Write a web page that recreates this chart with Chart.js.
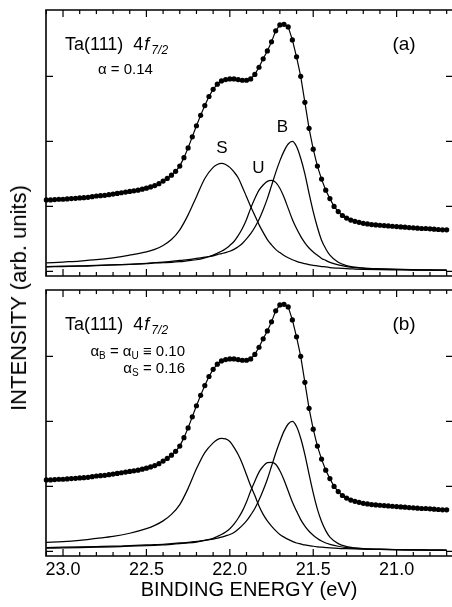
<!DOCTYPE html>
<html>
<head>
<meta charset="utf-8">
<script src="https://cdn.jsdelivr.net/npm/chart.js@4.4.1/dist/chart.umd.min.js"></script>
<style>
  html, body { margin:0; padding:0; background:#fff; }
  #wrap { position:relative; width:452px; height:607px; overflow:hidden; font-family:"Liberation Sans", Arial, sans-serif; }
  canvas { position:absolute; left:0; }
  #ca { top:0; }
  #cb { top:280px; }
  #ylab { position:absolute; left:19px; top:298px; transform:translate(-50%,-50%) rotate(-90deg); font-size:22px; white-space:nowrap; color:#000; }
</style>
</head>
<body>
<div id="wrap">
  <canvas id="ca" width="452" height="280"></canvas>
  <canvas id="cb" width="452" height="327"></canvas>
  <div id="ylab">INTENSITY (arb. units)</div>
</div>
<script>
// ---------- Data ----------
// measured spectrum (dots), binding energy in eV
const energy = [23.100, 23.075, 23.050, 23.025, 23.000, 22.975, 22.950, 22.925, 22.900, 22.875,
  22.850, 22.825, 22.800, 22.775, 22.750, 22.725, 22.700, 22.675, 22.650, 22.625,
  22.600, 22.575, 22.550, 22.525, 22.500, 22.475, 22.450, 22.425, 22.400, 22.375,
  22.350, 22.325, 22.300, 22.275, 22.250, 22.225, 22.200, 22.175, 22.150, 22.125,
  22.100, 22.075, 22.050, 22.025, 22.000, 21.975, 21.950, 21.925, 21.900, 21.875,
  21.850, 21.825, 21.800, 21.775, 21.750, 21.725, 21.700, 21.675, 21.650, 21.625,
  21.600, 21.575, 21.550, 21.525, 21.500, 21.475, 21.450, 21.425, 21.400, 21.375,
  21.350, 21.325, 21.300, 21.275, 21.250, 21.225, 21.200, 21.175, 21.150, 21.125,
  21.100, 21.075, 21.050, 21.025, 21.000, 20.975, 20.950, 20.925, 20.900, 20.875,
  20.850, 20.825, 20.800, 20.775, 20.750, 20.725, 20.700];
const intensity = [1.10, 1.10, 1.105, 1.11, 1.11, 1.115, 1.12, 1.125, 1.13, 1.135,
  1.14, 1.15, 1.16, 1.165, 1.17, 1.18, 1.19, 1.20, 1.21, 1.22,
  1.23, 1.24, 1.25, 1.265, 1.28, 1.30, 1.32, 1.35, 1.39, 1.43,
  1.48, 1.54, 1.62, 1.75, 1.90, 2.07, 2.24, 2.40, 2.55, 2.69,
  2.80, 2.88, 2.93, 2.95, 2.96, 2.96, 2.95, 2.94, 2.94, 2.96,
  3.03, 3.14, 3.27, 3.39, 3.53, 3.70, 3.79, 3.80, 3.76, 3.56,
  3.30, 3.00, 2.60, 2.20, 1.88, 1.62, 1.42, 1.25, 1.12, 1.00,
  0.92, 0.86, 0.82, 0.79, 0.77, 0.755, 0.74, 0.73, 0.72, 0.715,
  0.71, 0.705, 0.70, 0.695, 0.69, 0.685, 0.68, 0.675, 0.67, 0.665,
  0.66, 0.66, 0.655, 0.65, 0.645, 0.64, 0.64];

// fitted components (S, U, B)
const compE = [23.1, 23.0, 22.9, 22.8, 22.7, 22.6, 22.5, 22.45, 22.4, 22.35,
  22.3, 22.25, 22.2, 22.15, 22.1, 22.075, 22.05, 22.025, 22.0, 21.975,
  21.95, 21.925, 21.9, 21.875, 21.85, 21.825, 21.8, 21.775, 21.75, 21.725,
  21.7, 21.675, 21.65, 21.625, 21.6, 21.575, 21.55, 21.525, 21.5, 21.475,
  21.45, 21.425, 21.4, 21.35, 21.3, 21.25, 21.2, 21.1, 21.0, 20.9,
  20.8, 20.7];
// panel (a)
const surfA = [0.13, 0.145, 0.16, 0.18, 0.21, 0.25, 0.30, 0.34, 0.40, 0.49,
  0.64, 0.87, 1.15, 1.43, 1.60, 1.645, 1.66, 1.645, 1.60, 1.53,
  1.44, 1.30, 1.15, 1.00, 0.86, 0.72, 0.60, 0.49, 0.41, 0.34,
  0.29, 0.245, 0.21, 0.18, 0.155, 0.135, 0.12, 0.105, 0.095, 0.085,
  0.075, 0.07, 0.06, 0.05, 0.042, 0.037, 0.033, 0.028, 0.025, 0.022,
  0.02, 0.018];
const subA = [0.07, 0.075, 0.08, 0.09, 0.10, 0.11, 0.12, 0.13, 0.135, 0.14,
  0.15, 0.165, 0.18, 0.21, 0.25, 0.28, 0.31, 0.35, 0.40, 0.46,
  0.55, 0.66, 0.80, 0.97, 1.12, 1.25, 1.33, 1.385, 1.40, 1.37,
  1.28, 1.14, 0.97, 0.80, 0.66, 0.54, 0.44, 0.36, 0.30, 0.25,
  0.20, 0.17, 0.14, 0.10, 0.075, 0.06, 0.05, 0.04, 0.033, 0.028,
  0.024, 0.02];
const bulkA = [0.075, 0.08, 0.085, 0.095, 0.10, 0.11, 0.125, 0.135, 0.145, 0.155,
  0.17, 0.18, 0.20, 0.22, 0.24, 0.26, 0.275, 0.29, 0.31, 0.34,
  0.38, 0.43, 0.50, 0.58, 0.68, 0.80, 0.95, 1.12, 1.32, 1.52,
  1.70, 1.85, 1.96, 2.00, 1.92, 1.74, 1.50, 1.20, 0.92, 0.68,
  0.48, 0.35, 0.25, 0.14, 0.09, 0.065, 0.05, 0.038, 0.03, 0.026,
  0.022, 0.02];
// panel (b)
const surfB = [0.14, 0.15, 0.17, 0.20, 0.23, 0.28, 0.35, 0.40, 0.47, 0.57,
  0.72, 0.97, 1.27, 1.52, 1.67, 1.72, 1.74, 1.73, 1.69, 1.60,
  1.49, 1.35, 1.18, 1.01, 0.86, 0.70, 0.57, 0.47, 0.39, 0.32,
  0.26, 0.22, 0.185, 0.155, 0.13, 0.115, 0.10, 0.09, 0.08, 0.072,
  0.065, 0.06, 0.055, 0.047, 0.042, 0.038, 0.035, 0.03, 0.027, 0.024,
  0.022, 0.02];
const subB = [0.05, 0.055, 0.06, 0.065, 0.07, 0.08, 0.09, 0.095, 0.10, 0.11,
  0.12, 0.13, 0.145, 0.17, 0.20, 0.23, 0.26, 0.30, 0.35, 0.42,
  0.51, 0.62, 0.76, 0.93, 1.08, 1.22, 1.31, 1.365, 1.37, 1.34,
  1.24, 1.10, 0.93, 0.76, 0.62, 0.49, 0.39, 0.31, 0.25, 0.20,
  0.16, 0.13, 0.11, 0.08, 0.06, 0.048, 0.04, 0.032, 0.027, 0.023,
  0.02, 0.018];
const bulkB = [0.06, 0.065, 0.07, 0.075, 0.08, 0.09, 0.10, 0.105, 0.11, 0.12,
  0.13, 0.14, 0.155, 0.17, 0.19, 0.205, 0.22, 0.24, 0.26, 0.29,
  0.34, 0.40, 0.47, 0.56, 0.66, 0.79, 0.94, 1.11, 1.31, 1.51,
  1.69, 1.85, 1.96, 2.00, 1.92, 1.74, 1.49, 1.19, 0.90, 0.65,
  0.46, 0.32, 0.22, 0.12, 0.075, 0.055, 0.045, 0.035, 0.028, 0.024,
  0.02, 0.018];

// ticks
const xMajor = [23.0, 22.5, 22.0, 21.5, 21.0];
const xMinor = [23.1, 22.9, 22.8, 22.7, 22.6, 22.4, 22.3, 22.2, 22.1, 21.9, 21.8,
  21.7, 21.6, 21.4, 21.3, 21.2, 21.1, 20.9, 20.8, 20.7];
const yTicks = [0, 1, 2, 3];

// ---------- Utils ----------
const FONT = '"Liberation Sans", Arial, sans-serif';
const pts = (xs, ys) => xs.map((x, i) => ({ x, y: ys[i] }));

// frame (left/top/bottom, right edge is cut off) + inward ticks
const frameTicks = {
  id: "frameTicks",
  afterDraw(chart) {
    const { ctx, chartArea: a, scales: { x, y } } = chart;
    ctx.save();
    ctx.strokeStyle = "#000";
    ctx.lineWidth = 1.6;
    ctx.beginPath();
    ctx.moveTo(a.right, a.top); ctx.lineTo(a.left, a.top);
    ctx.lineTo(a.left, a.bottom); ctx.lineTo(a.right, a.bottom);
    ctx.stroke();
    ctx.lineWidth = 1.2;
    ctx.beginPath();
    x.ticks.forEach(t => {
      const px = x.getPixelForValue(t.value);
      const len = xMajor.includes(t.value) ? 7 : 4;
      ctx.moveTo(px, a.bottom); ctx.lineTo(px, a.bottom - len);
      ctx.moveTo(px, a.top);    ctx.lineTo(px, a.top + len);
    });
    y.ticks.forEach(t => {
      const py = y.getPixelForValue(t.value);
      ctx.moveTo(a.left, py);  ctx.lineTo(a.left + 7, py);
      ctx.moveTo(a.right, py); ctx.lineTo(a.right - 6, py);
    });
    ctx.stroke();
    ctx.restore();
  }
};

// text made of pieces: {t, sub, it}
function drawRich(ctx, parts, x, y, size, align) {
  const fontOf = p => (p.it ? "italic " : "") + (p.sub ? Math.round(size * 0.68) : size) + "px " + FONT;
  let total = 0;
  parts.forEach(p => { ctx.font = fontOf(p); total += ctx.measureText(p.t).width + (p.gap || 0); });
  let cx = align === "right" ? x - total : x;
  ctx.textAlign = "left";
  ctx.textBaseline = "alphabetic";
  parts.forEach(p => {
    ctx.font = fontOf(p);
    ctx.fillText(p.t, cx, y + (p.sub ? size * 0.22 : 0));
    cx += ctx.measureText(p.t).width + (p.gap || 0);
  });
}

function drawHeader(chart, tag, alphaLines, labels) {
  const { ctx, scales: { x, y } } = chart;
  ctx.save();
  ctx.fillStyle = "#000";
  drawRich(ctx, [{ t: "Ta(111)  4", gap: 1 }, { t: "f", it: true, gap: 2 }, { t: "7/2", it: true, sub: true }], 65, 50, 18, "left");
  alphaLines.forEach(l => drawRich(ctx, l.parts, l.x, l.y, 15, l.align));
  ctx.font = "19px " + FONT;
  ctx.textAlign = "center";
  ctx.textBaseline = "middle";
  ctx.fillText(tag, 404, 45);
  ctx.font = "17px " + FONT;
  labels.forEach(l => ctx.fillText(l.t, x.getPixelForValue(l.e), y.getPixelForValue(l.v)));
  ctx.restore();
}

function makeDatasets(s, u, b) {
  const comp = d => ({
    data: pts(compE, d), borderColor: "#000", borderWidth: 1.25,
    pointRadius: 0, cubicInterpolationMode: "monotone", fill: false
  });
  return [
    { data: pts(energy, intensity), borderColor: "#000", borderWidth: 1.2,
      pointRadius: 2.6, pointBackgroundColor: "#000", pointBorderWidth: 0,
      tension: 0, clip: false },
    comp(s), comp(u), comp(b)
  ];
}

function makeOptions(bottom) {
  return {
    responsive: false,
    animation: false,
    events: [],
    layout: { autoPadding: false, padding: { top: 10, left: 0, right: 0, bottom: 0 } },
    plugins: { legend: { display: false }, tooltip: { enabled: false } },
    scales: {
      x: {
        type: "linear", reverse: true, min: 20.668, max: 23.102,
        grid: { display: false, drawTicks: false }, border: { display: false },
        afterBuildTicks: sc => { sc.ticks = xMajor.concat(xMinor).sort((a, b) => a - b).map(v => ({ value: v })); },
        ticks: {
          display: bottom, autoSkip: false, maxRotation: 0, padding: 3, color: "#000",
          font: { family: FONT, size: 18 },
          callback: v => xMajor.includes(v) ? v.toFixed(1) : ""
        },
        title: {
          display: bottom, text: "BINDING ENERGY (eV)", color: "#000",
          font: { family: FONT, size: 20 }, padding: { top: 0, bottom: 5 }
        },
        afterFit: sc => { sc.height = bottom ? 51 : 4; }
      },
      y: {
        min: -0.07, max: 4.02,
        grid: { display: false, drawTicks: false }, border: { display: false },
        afterBuildTicks: sc => { sc.ticks = yTicks.map(v => ({ value: v })); },
        ticks: { display: false },
        afterFit: sc => { sc.width = 46; }
      }
    }
  };
}

// ---------- Panel (a) ----------
new Chart(document.getElementById("ca"), {
  type: "line",
  data: { datasets: makeDatasets(surfA, subA, bulkA) },
  options: makeOptions(false),
  plugins: [frameTicks, {
    id: "notesA",
    afterDraw: chart => drawHeader(chart, "(a)",
      [{ parts: [{ t: "α = 0.14" }], x: 98, y: 74, align: "left" }],
      [{ t: "S", e: 22.047, v: 1.90 }, { t: "U", e: 21.828, v: 1.59 }, { t: "B", e: 21.684, v: 2.21 }])
  }]
});

// ---------- Panel (b) ----------
new Chart(document.getElementById("cb"), {
  type: "line",
  data: { datasets: makeDatasets(surfB, subB, bulkB) },
  options: makeOptions(true),
  plugins: [frameTicks, {
    id: "notesB",
    afterDraw: chart => drawHeader(chart, "(b)",
      [{ parts: [{ t: "α" }, { t: "B", sub: true }, { t: " = α" }, { t: "U", sub: true }, { t: " ≡ 0.10" }], x: 185, y: 76, align: "right" },
       { parts: [{ t: "α" }, { t: "S", sub: true }, { t: " = 0.16" }], x: 185, y: 93, align: "right" }],
      [])
  }]
});
</script>
</body>
</html>
